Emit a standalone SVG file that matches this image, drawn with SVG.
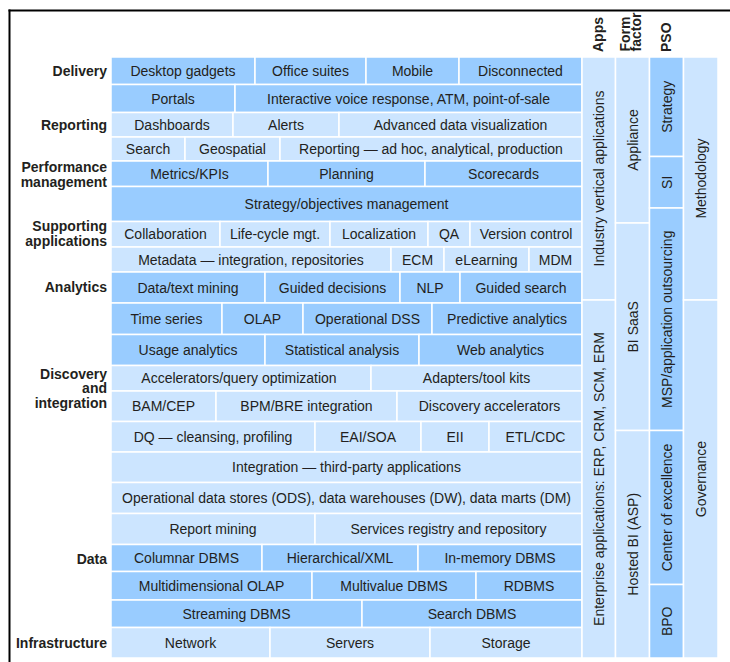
<svg xmlns="http://www.w3.org/2000/svg" width="730" height="662" viewBox="0 0 730 662">
<style>
.d{fill:#99ccff;stroke:#fff;stroke-width:1.5}
.l{fill:#cce5ff;stroke:#fff;stroke-width:1.5}
text{font-family:"Liberation Sans",Arial,sans-serif;fill:#231f20}
.t{font-size:14px;text-anchor:middle}
.lab{font-size:14px;font-weight:bold;text-anchor:end}
.h{font-size:14px;font-weight:bold;text-anchor:start}
</style>
<rect x="0" y="0" width="730" height="662" fill="#fff"/>
<g id="frame" stroke="#000" stroke-width="2" fill="none">
<line x1="8.5" y1="10.5" x2="730" y2="10.5"/>
<line x1="9.5" y1="9.5" x2="9.5" y2="662"/>
</g>
<g id="headers">
<text class="h" transform="translate(603,52) rotate(-90)">Apps</text>
<text class="h" transform="translate(629.5,51.5) rotate(-90)">Form</text>
<text class="h" transform="translate(641,51.5) rotate(-90)">factor</text>
<text class="h" transform="translate(670.5,52) rotate(-90)">PSO</text>
</g>
<g id="row-labels">
<text class="lab" x="107" y="76">Delivery</text>
<text class="lab" x="107" y="130">Reporting</text>
<text class="lab" x="107" y="172">Performance</text>
<text class="lab" x="107" y="186.5">management</text>
<text class="lab" x="107" y="231">Supporting</text>
<text class="lab" x="107" y="245.5">applications</text>
<text class="lab" x="107" y="292">Analytics</text>
<text class="lab" x="107" y="378.5">Discovery</text>
<text class="lab" x="107" y="393">and</text>
<text class="lab" x="107" y="407.5">integration</text>
<text class="lab" x="107" y="563.5">Data</text>
<text class="lab" x="107" y="647.5">Infrastructure</text>
</g>
<g id="connectors"></g>
<g id="grid">
<g id="r1">
<g id="c-desktop"><rect class="d" x="111" y="57" width="144" height="27.5"/><text class="t" x="183" y="76">Desktop gadgets</text></g>
<g id="c-office"><rect class="d" x="255" y="57" width="111" height="27.5"/><text class="t" x="310.5" y="76">Office suites</text></g>
<g id="c-mobile"><rect class="d" x="366" y="57" width="93" height="27.5"/><text class="t" x="412.5" y="76">Mobile</text></g>
<g id="c-disconnected"><rect class="d" x="459" y="57" width="123" height="27.5"/><text class="t" x="520.5" y="76">Disconnected</text></g>
</g>
<g id="r2">
<g id="c-portals"><rect class="d" x="111" y="84.5" width="124" height="28"/><text class="t" x="173" y="103.5">Portals</text></g>
<g id="c-ivr"><rect class="d" x="235" y="84.5" width="347" height="28"/><text class="t" x="408.5" y="103.5">Interactive voice response, ATM, point-of-sale</text></g>
</g>
<g id="r3">
<g id="c-dashboards"><rect class="l" x="111" y="112.5" width="122" height="24.5"/><text class="t" x="172" y="130">Dashboards</text></g>
<g id="c-alerts"><rect class="l" x="233" y="112.5" width="106" height="24.5"/><text class="t" x="286" y="130">Alerts</text></g>
<g id="c-advviz"><rect class="l" x="339" y="112.5" width="243" height="24.5"/><text class="t" x="460.5" y="130">Advanced data visualization</text></g>
</g>
<g id="r4">
<g id="c-search"><rect class="l" x="111" y="137" width="74" height="24"/><text class="t" x="148" y="154">Search</text></g>
<g id="c-geo"><rect class="l" x="185" y="137" width="95" height="24"/><text class="t" x="232.5" y="154">Geospatial</text></g>
<g id="c-reporting"><rect class="l" x="280" y="137" width="302" height="24"/><text class="t" x="431" y="154">Reporting — ad hoc, analytical, production</text></g>
</g>
<g id="r5">
<g id="c-metrics"><rect class="d" x="111" y="161" width="157" height="25.5"/><text class="t" x="189.5" y="178.8">Metrics/KPIs</text></g>
<g id="c-planning"><rect class="d" x="268" y="161" width="157" height="25.5"/><text class="t" x="346.5" y="178.8">Planning</text></g>
<g id="c-scorecards"><rect class="d" x="425" y="161" width="157" height="25.5"/><text class="t" x="503.5" y="178.8">Scorecards</text></g>
</g>
<g id="r6">
<g id="c-strategy-obj"><rect class="d" x="111" y="186.5" width="471" height="35"/><text class="t" x="346.5" y="209">Strategy/objectives management</text></g>
</g>
<g id="r7">
<g id="c-collab"><rect class="l" x="111" y="221.5" width="109" height="25.5"/><text class="t" x="165.5" y="239.3">Collaboration</text></g>
<g id="c-lifecycle"><rect class="l" x="220" y="221.5" width="110" height="25.5"/><text class="t" x="275" y="239.3">Life-cycle mgt.</text></g>
<g id="c-localization"><rect class="l" x="330" y="221.5" width="98" height="25.5"/><text class="t" x="379" y="239.3">Localization</text></g>
<g id="c-qa"><rect class="l" x="428" y="221.5" width="42" height="25.5"/><text class="t" x="449" y="239.3">QA</text></g>
<g id="c-version"><rect class="l" x="470" y="221.5" width="112" height="25.5"/><text class="t" x="526" y="239.3">Version control</text></g>
</g>
<g id="r8">
<g id="c-metadata"><rect class="l" x="111" y="247" width="280" height="25"/><text class="t" x="251" y="264.5">Metadata — integration, repositories</text></g>
<g id="c-ecm"><rect class="l" x="391" y="247" width="53" height="25"/><text class="t" x="417.5" y="264.5">ECM</text></g>
<g id="c-elearning"><rect class="l" x="444" y="247" width="85" height="25"/><text class="t" x="486.5" y="264.5">eLearning</text></g>
<g id="c-mdm"><rect class="l" x="529" y="247" width="53" height="25"/><text class="t" x="555.5" y="264.5">MDM</text></g>
</g>
<g id="r9">
<g id="c-datatext"><rect class="d" x="111" y="272" width="154" height="31"/><text class="t" x="188" y="292.5">Data/text mining</text></g>
<g id="c-guideddec"><rect class="d" x="265" y="272" width="135" height="31"/><text class="t" x="332.5" y="292.5">Guided decisions</text></g>
<g id="c-nlp"><rect class="d" x="400" y="272" width="60" height="31"/><text class="t" x="430" y="292.5">NLP</text></g>
<g id="c-guidedsearch"><rect class="d" x="460" y="272" width="122" height="31"/><text class="t" x="521" y="292.5">Guided search</text></g>
</g>
<g id="r10">
<g id="c-timeseries"><rect class="d" x="111" y="303" width="111" height="31.5"/><text class="t" x="166.5" y="323.8">Time series</text></g>
<g id="c-olap"><rect class="d" x="222" y="303" width="81" height="31.5"/><text class="t" x="262.5" y="323.8">OLAP</text></g>
<g id="c-opdss"><rect class="d" x="303" y="303" width="129" height="31.5"/><text class="t" x="367.5" y="323.8">Operational DSS</text></g>
<g id="c-predictive"><rect class="d" x="432" y="303" width="150" height="31.5"/><text class="t" x="507" y="323.8">Predictive analytics</text></g>
</g>
<g id="r11">
<g id="c-usage"><rect class="d" x="111" y="334.5" width="154" height="31"/><text class="t" x="188" y="355">Usage analytics</text></g>
<g id="c-statistical"><rect class="d" x="265" y="334.5" width="154" height="31"/><text class="t" x="342" y="355">Statistical analysis</text></g>
<g id="c-web"><rect class="d" x="419" y="334.5" width="163" height="31"/><text class="t" x="500.5" y="355">Web analytics</text></g>
</g>
<g id="r12">
<g id="c-accel"><rect class="l" x="111" y="365.5" width="260" height="25.5"/><text class="t" x="239" y="383.3">Accelerators/query optimization</text></g>
<g id="c-adapters"><rect class="l" x="371" y="365.5" width="211" height="25.5"/><text class="t" x="476.5" y="383.3">Adapters/tool kits</text></g>
</g>
<g id="r13">
<g id="c-bam"><rect class="l" x="111" y="391" width="105" height="30.5"/><text class="t" x="163.5" y="411.3">BAM/CEP</text></g>
<g id="c-bpm"><rect class="l" x="216" y="391" width="181" height="30.5"/><text class="t" x="306.5" y="411.3">BPM/BRE integration</text></g>
<g id="c-discacc"><rect class="l" x="397" y="391" width="185" height="30.5"/><text class="t" x="489.5" y="411.3">Discovery accelerators</text></g>
</g>
<g id="r14">
<g id="c-dq"><rect class="l" x="111" y="421.5" width="204" height="30.5"/><text class="t" x="213" y="441.8">DQ — cleansing, profiling</text></g>
<g id="c-eai"><rect class="l" x="315" y="421.5" width="106" height="30.5"/><text class="t" x="368" y="441.8">EAI/SOA</text></g>
<g id="c-eii"><rect class="l" x="421" y="421.5" width="68" height="30.5"/><text class="t" x="455" y="441.8">EII</text></g>
<g id="c-etl"><rect class="l" x="489" y="421.5" width="93" height="30.5"/><text class="t" x="535.5" y="441.8">ETL/CDC</text></g>
</g>
<g id="r15">
<g id="c-integration"><rect class="l" x="111" y="452" width="471" height="30.5"/><text class="t" x="346.5" y="472.3">Integration — third-party applications</text></g>
</g>
<g id="r16">
<g id="c-ods"><rect class="l" x="111" y="482.5" width="471" height="31"/><text class="t" x="346.5" y="503">Operational data stores (ODS), data warehouses (DW), data marts (DM)</text></g>
</g>
<g id="r17">
<g id="c-reportmining"><rect class="l" x="111" y="513.5" width="204" height="31"/><text class="t" x="213" y="534">Report mining</text></g>
<g id="c-services"><rect class="l" x="315" y="513.5" width="267" height="31"/><text class="t" x="448.5" y="534">Services registry and repository</text></g>
</g>
<g id="r18">
<g id="c-columnar"><rect class="d" x="111" y="544.5" width="151" height="27"/><text class="t" x="186.5" y="563">Columnar DBMS</text></g>
<g id="c-hier"><rect class="d" x="262" y="544.5" width="156" height="27"/><text class="t" x="340" y="563">Hierarchical/XML</text></g>
<g id="c-inmem"><rect class="d" x="418" y="544.5" width="164" height="27"/><text class="t" x="500" y="563">In-memory DBMS</text></g>
</g>
<g id="r19">
<g id="c-mdolap"><rect class="d" x="111" y="571.5" width="201" height="28.5"/><text class="t" x="211.5" y="590.8">Multidimensional OLAP</text></g>
<g id="c-multivalue"><rect class="d" x="312" y="571.5" width="164" height="28.5"/><text class="t" x="394" y="590.8">Multivalue DBMS</text></g>
<g id="c-rdbms"><rect class="d" x="476" y="571.5" width="106" height="28.5"/><text class="t" x="529" y="590.8">RDBMS</text></g>
</g>
<g id="r20">
<g id="c-streaming"><rect class="d" x="111" y="600" width="251" height="27.5"/><text class="t" x="236.5" y="618.8">Streaming DBMS</text></g>
<g id="c-searchdbms"><rect class="d" x="362" y="600" width="220" height="27.5"/><text class="t" x="472" y="618.8">Search DBMS</text></g>
</g>
<g id="r21">
<g id="c-network"><rect class="l" x="111" y="627.5" width="159" height="30.5"/><text class="t" x="190.5" y="647.8">Network</text></g>
<g id="c-servers"><rect class="l" x="270" y="627.5" width="160" height="30.5"/><text class="t" x="350" y="647.8">Servers</text></g>
<g id="c-storage"><rect class="l" x="430" y="627.5" width="152" height="30.5"/><text class="t" x="506" y="647.8">Storage</text></g>
</g>
</g>
<g id="columns">
<g id="apps">
<g id="c-industry"><rect class="l" x="582" y="57" width="33.5" height="243"/><text class="t" transform="translate(603.8,178.5) rotate(-90)">Industry vertical applications</text></g>
<g id="c-enterprise"><rect class="l" x="582" y="300" width="33.5" height="358"/><text class="t" transform="translate(603.8,479) rotate(-90)">Enterprise applications: ERP, CRM, SCM, ERM</text></g>
</g>
<g id="formfactor">
<g id="c-appliance"><rect class="l" x="615.5" y="57" width="34" height="166"/><text class="t" transform="translate(637.5,140) rotate(-90)">Appliance</text></g>
<g id="c-bisaas"><rect class="l" x="615.5" y="223" width="34" height="207.5"/><text class="t" transform="translate(637.5,326.8) rotate(-90)">BI SaaS</text></g>
<g id="c-hosted"><rect class="l" x="615.5" y="430.5" width="34" height="227.5"/><text class="t" transform="translate(637.5,544.3) rotate(-90)">Hosted BI (ASP)</text></g>
</g>
<g id="pso">
<g id="c-strategy"><rect class="d" x="649.5" y="57" width="34" height="99.5"/><text class="t" transform="translate(671.5,106.8) rotate(-90)">Strategy</text></g>
<g id="c-si"><rect class="d" x="649.5" y="156.5" width="34" height="51.5"/><text class="t" transform="translate(671.5,182.3) rotate(-90)">SI</text></g>
<g id="c-msp"><rect class="d" x="649.5" y="208" width="34" height="222.5"/><text class="t" transform="translate(671.5,319.3) rotate(-90)">MSP/application outsourcing</text></g>
<g id="c-coe"><rect class="d" x="649.5" y="430.5" width="34" height="154"/><text class="t" transform="translate(671.5,507.5) rotate(-90)">Center of excellence</text></g>
<g id="c-bpo"><rect class="d" x="649.5" y="584.5" width="34" height="73.5"/><text class="t" transform="translate(671.5,621.3) rotate(-90)">BPO</text></g>
</g>
<g id="meth">
<g id="c-methodology"><rect class="l" x="683.5" y="57" width="34.5" height="243"/><text class="t" transform="translate(706,178.5) rotate(-90)">Methodology</text></g>
<g id="c-governance"><rect class="l" x="683.5" y="300" width="34.5" height="358"/><text class="t" transform="translate(706,479) rotate(-90)">Governance</text></g>
</g>
</g>
</svg>
